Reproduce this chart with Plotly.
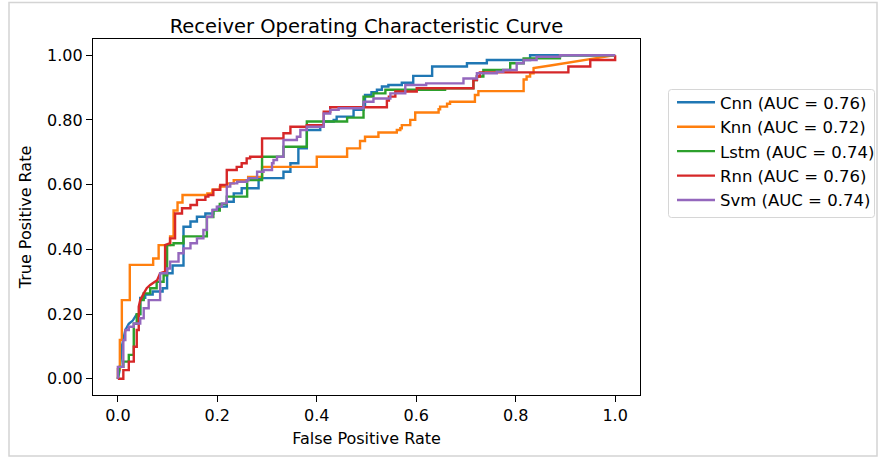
import plotly.graph_objects as go

# ROC curve vertices (false positive rate, true positive rate) for each model
cnn_fpr = [0, 0.004, 0.008, 0.011, 0.015, 0.022, 0.030, 0.038, 0.045, 0.045, 0.055, 0.055, 0.070, 0.070, 0.090, 0.090,
           0.099, 0.099, 0.110, 0.110, 0.132, 0.132, 0.146, 0.146, 0.159, 0.159, 0.176, 0.176, 0.192, 0.192, 0.203, 0.203,
           0.219, 0.219, 0.233, 0.233, 0.249, 0.249, 0.283, 0.283, 0.333, 0.333, 0.347, 0.347, 0.363, 0.363, 0.380, 0.380,
           0.407, 0.407, 0.414, 0.414, 0.434, 0.434, 0.440, 0.440, 0.474, 0.474, 0.494, 0.494, 0.497, 0.497, 0.510, 0.510,
           0.521, 0.521, 0.531, 0.531, 0.544, 0.544, 0.571, 0.571, 0.594, 0.594, 0.632, 0.632, 0.702, 0.702, 0.742, 0.742,
           0.829, 0.829, 1.0]
cnn_tpr = [0, 0.03, 0.10, 0.12, 0.15, 0.17, 0.18, 0.20, 0.20, 0.25, 0.25, 0.26, 0.26, 0.27, 0.27, 0.28,
           0.28, 0.326, 0.326, 0.35, 0.35, 0.47, 0.47, 0.486, 0.486, 0.501, 0.501, 0.511, 0.511, 0.522, 0.522, 0.532,
           0.532, 0.547, 0.547, 0.573, 0.573, 0.589, 0.589, 0.620, 0.620, 0.640, 0.640, 0.666, 0.666, 0.712, 0.712, 0.769,
           0.769, 0.784, 0.784, 0.795, 0.795, 0.800, 0.800, 0.810, 0.810, 0.831, 0.831, 0.847, 0.847, 0.877, 0.877, 0.886,
           0.886, 0.893, 0.893, 0.903, 0.903, 0.908, 0.908, 0.915, 0.915, 0.936, 0.936, 0.965, 0.965, 0.975, 0.975, 0.985,
           0.985, 1.0, 1.0]

knn_fpr = [0, 0, 0.004, 0.004, 0.008, 0.008, 0.024, 0.024, 0.071, 0.071, 0.082, 0.082, 0.105, 0.105, 0.112, 0.112,
           0.120, 0.120, 0.130, 0.130, 0.180, 0.180, 0.190, 0.190, 0.205, 0.205, 0.220, 0.220, 0.233, 0.233, 0.262, 0.262,
           0.290, 0.290, 0.400, 0.400, 0.461, 0.461, 0.487, 0.487, 0.497, 0.497, 0.524, 0.524, 0.561, 0.561, 0.568, 0.568,
           0.571, 0.571, 0.588, 0.588, 0.598, 0.598, 0.645, 0.645, 0.648, 0.648, 0.662, 0.662, 0.668, 0.668, 0.718, 0.718,
           0.725, 0.725, 0.816, 0.816, 0.822, 0.822, 0.829, 0.829, 0.836, 0.836, 0.870, 0.910, 0.950, 1.0]
knn_tpr = [0, 0.03, 0.03, 0.12, 0.12, 0.243, 0.243, 0.352, 0.352, 0.372, 0.372, 0.413, 0.413, 0.44, 0.44, 0.52,
           0.52, 0.545, 0.545, 0.568, 0.568, 0.573, 0.573, 0.584, 0.584, 0.594, 0.594, 0.604, 0.604, 0.614, 0.614, 0.624,
           0.624, 0.655, 0.655, 0.686, 0.686, 0.712, 0.712, 0.735, 0.735, 0.748, 0.748, 0.761, 0.761, 0.769, 0.769, 0.774,
           0.774, 0.784, 0.784, 0.800, 0.800, 0.823, 0.823, 0.833, 0.833, 0.841, 0.841, 0.850, 0.850, 0.856, 0.856, 0.877,
           0.877, 0.889, 0.889, 0.925, 0.925, 0.934, 0.934, 0.944, 0.944, 0.960, 0.968, 0.978, 0.987, 1.0]

lstm_fpr = [0, 0.003, 0.011, 0.011, 0.022, 0.022, 0.032, 0.032, 0.038, 0.038, 0.045, 0.045, 0.052, 0.052, 0.065, 0.065,
            0.078, 0.078, 0.092, 0.092, 0.099, 0.099, 0.112, 0.112, 0.132, 0.132, 0.179, 0.179, 0.192, 0.192, 0.205, 0.205,
            0.219, 0.219, 0.260, 0.260, 0.290, 0.290, 0.333, 0.333, 0.380, 0.380, 0.461, 0.461, 0.494, 0.494, 0.514, 0.514,
            0.538, 0.538, 0.658, 0.658, 0.715, 0.715, 0.722, 0.722, 0.735, 0.735, 0.789, 0.789, 0.816, 0.816, 0.889, 0.889,
            1.0]
lstm_tpr = [0, 0.037, 0.037, 0.053, 0.053, 0.074, 0.074, 0.17, 0.17, 0.20, 0.20, 0.243, 0.243, 0.264, 0.264, 0.28,
            0.28, 0.30, 0.30, 0.32, 0.32, 0.413, 0.413, 0.419, 0.419, 0.44, 0.44, 0.50, 0.50, 0.52, 0.52, 0.54,
            0.54, 0.563, 0.563, 0.614, 0.614, 0.686, 0.686, 0.717, 0.717, 0.795, 0.795, 0.807, 0.807, 0.872, 0.872, 0.882,
            0.882, 0.893, 0.893, 0.898, 0.898, 0.923, 0.923, 0.934, 0.934, 0.954, 0.954, 0.975, 0.975, 0.990, 0.990, 1.0,
            1.0]

rnn_fpr = [0, 0.011, 0.011, 0.022, 0.022, 0.032, 0.032, 0.038, 0.038, 0.042, 0.042, 0.045, 0.052, 0.058, 0.065, 0.079,
           0.085, 0.095, 0.095, 0.105, 0.105, 0.115, 0.115, 0.129, 0.129, 0.146, 0.146, 0.159, 0.159, 0.176, 0.176, 0.182,
           0.182, 0.192, 0.192, 0.206, 0.206, 0.219, 0.219, 0.239, 0.239, 0.249, 0.249, 0.259, 0.259, 0.266, 0.266, 0.290,
           0.290, 0.333, 0.333, 0.347, 0.347, 0.380, 0.380, 0.414, 0.414, 0.427, 0.427, 0.541, 0.541, 0.545, 0.545, 0.558,
           0.558, 0.601, 0.601, 0.715, 0.715, 0.722, 0.722, 0.728, 0.728, 0.906, 0.906, 0.950, 0.950, 1.0, 1.0]
rnn_tpr = [0, 0, 0.027, 0.027, 0.053, 0.053, 0.099, 0.099, 0.151, 0.151, 0.223, 0.243, 0.264, 0.280, 0.290, 0.305,
           0.326, 0.331, 0.413, 0.419, 0.434, 0.434, 0.511, 0.511, 0.527, 0.527, 0.537, 0.537, 0.553, 0.553, 0.563, 0.563,
           0.568, 0.568, 0.584, 0.584, 0.599, 0.599, 0.645, 0.645, 0.655, 0.655, 0.666, 0.666, 0.681, 0.681, 0.686, 0.686,
           0.743, 0.743, 0.759, 0.759, 0.779, 0.779, 0.784, 0.784, 0.825, 0.825, 0.839, 0.839, 0.860, 0.860, 0.872, 0.872,
           0.888, 0.888, 0.898, 0.898, 0.923, 0.923, 0.934, 0.934, 0.947, 0.947, 0.965, 0.965, 0.985, 0.985, 1.0]

svm_fpr = [0, 0, 0.011, 0.011, 0.015, 0.015, 0.022, 0.022, 0.032, 0.032, 0.045, 0.045, 0.052, 0.052, 0.062, 0.062,
           0.085, 0.085, 0.099, 0.099, 0.105, 0.105, 0.122, 0.122, 0.132, 0.132, 0.146, 0.146, 0.159, 0.159, 0.172, 0.172,
           0.179, 0.179, 0.190, 0.190, 0.199, 0.199, 0.209, 0.209, 0.219, 0.219, 0.226, 0.226, 0.240, 0.240, 0.259, 0.259,
           0.263, 0.263, 0.280, 0.280, 0.293, 0.293, 0.310, 0.310, 0.313, 0.313, 0.320, 0.320, 0.333, 0.333, 0.360, 0.360,
           0.367, 0.367, 0.380, 0.380, 0.414, 0.414, 0.427, 0.427, 0.444, 0.444, 0.494, 0.494, 0.514, 0.514, 0.548, 0.548,
           0.578, 0.578, 0.620, 0.620, 0.695, 0.695, 0.722, 0.722, 0.762, 0.762, 0.775, 0.775, 0.802, 0.802, 0.816, 0.816,
           0.842, 0.842, 0.889, 0.889, 1.0]
svm_tpr = [0, 0.037, 0.037, 0.120, 0.120, 0.151, 0.151, 0.161, 0.161, 0.171, 0.171, 0.187, 0.187, 0.218, 0.218, 0.243,
           0.243, 0.326, 0.326, 0.341, 0.341, 0.362, 0.362, 0.388, 0.388, 0.403, 0.403, 0.419, 0.419, 0.434, 0.434, 0.460,
           0.460, 0.501, 0.501, 0.522, 0.522, 0.532, 0.532, 0.542, 0.542, 0.594, 0.594, 0.604, 0.604, 0.609, 0.609, 0.614,
           0.614, 0.620, 0.620, 0.640, 0.640, 0.645, 0.645, 0.666, 0.666, 0.676, 0.676, 0.686, 0.686, 0.738, 0.738, 0.748,
           0.748, 0.769, 0.769, 0.779, 0.779, 0.820, 0.820, 0.831, 0.831, 0.836, 0.836, 0.856, 0.856, 0.866, 0.866, 0.882,
           0.882, 0.908, 0.908, 0.913, 0.913, 0.928, 0.928, 0.944, 0.944, 0.949, 0.949, 0.954, 0.954, 0.975, 0.975, 0.985,
           0.985, 0.995, 0.995, 1.0, 1.0]

model_names = ["Cnn", "Knn", "Lstm", "Rnn", "Svm"]
auc_values = [0.76, 0.72, 0.74, 0.76, 0.74]
fpr_series = [cnn_fpr, knn_fpr, lstm_fpr, rnn_fpr, svm_fpr]
tpr_series = [cnn_tpr, knn_tpr, lstm_tpr, rnn_tpr, svm_tpr]
line_colors = ["#1f77b4", "#ff7f0e", "#2ca02c", "#d62728", "#9467bd"]

x_ticks = [0.0, 0.2, 0.4, 0.6, 0.8, 1.0]
y_ticks = [0.0, 0.2, 0.4, 0.6, 0.8, 1.0]

# page geometry (pixels)
W, H = 881, 459
L, R, T, B = 93, 241, 39, 64
PW, PH = W - L - R, H - T - B


def paper_x(px):
    return (px - L) / PW


def paper_y(py):
    return (H - B - py) / PH


def rounded_box(x0, y0, x1, y1, r):
    """SVG path (paper coordinates) of a rectangle with rounded corners, given in pixels."""
    X = paper_x
    Y = paper_y
    return (
        f"M{X(x0 + r)},{Y(y0)} L{X(x1 - r)},{Y(y0)} Q{X(x1)},{Y(y0)} {X(x1)},{Y(y0 + r)} "
        f"L{X(x1)},{Y(y1 - r)} Q{X(x1)},{Y(y1)} {X(x1 - r)},{Y(y1)} "
        f"L{X(x0 + r)},{Y(y1)} Q{X(x0)},{Y(y1)} {X(x0)},{Y(y1 - r)} "
        f"L{X(x0)},{Y(y0 + r)} Q{X(x0)},{Y(y0)} {X(x0 + r)},{Y(y0)} Z"
    )


FONT = "DejaVu Sans"

fig = go.Figure()
for name, auc, fpr, tpr, color in zip(model_names, auc_values, fpr_series, tpr_series, line_colors):
    fig.add_trace(go.Scatter(
        x=fpr, y=tpr, mode="lines",
        name=f"{name} (AUC = {auc:.2f})",
        line=dict(color=color, width=2.4),
    ))

axis_common = dict(
    showgrid=False, zeroline=False,
    showline=True, mirror=True, linecolor="#000000", linewidth=1.2,
    ticks="outside", ticklen=6, tickwidth=1.2, tickcolor="#000000",
    tickfont=dict(family=FONT, size=16, color="#000000"),
    range=[-0.05, 1.05],
)

fig.update_layout(
    width=W, height=H,
    margin=dict(l=L, r=R, t=T, b=B, autoexpand=False),
    paper_bgcolor="white", plot_bgcolor="white",
    font=dict(family=FONT, color="#000000"),
    title=dict(
        text="Receiver Operating Characteristic Curve",
        font=dict(family=FONT, size=19.5, color="#000000"),
        x=(L + PW / 2) / W, xref="container", xanchor="center",
        y=(H - 33) / H, yref="container", yanchor="bottom",
    ),
    xaxis=dict(
        axis_common,
        tickvals=x_ticks, tickformat=".1f",
        title=dict(text="False Positive Rate", font=dict(family=FONT, size=16), standoff=8),
    ),
    yaxis=dict(
        axis_common,
        tickvals=y_ticks, tickformat=".2f",
        title=dict(text="True Positive Rate", font=dict(family=FONT, size=16), standoff=11),
    ),
    legend=dict(
        x=paper_x(672), y=paper_y(85), xanchor="left", yanchor="top",
        xref="paper", yref="paper",
        bgcolor="rgba(0,0,0,0)", borderwidth=0,
        font=dict(family=FONT, size=16.5, color="#000000"),
        itemwidth=38,
    ),
    showlegend=True,
    shapes=[
        # light frame around the whole figure
        dict(
            type="rect", xref="paper", yref="paper",
            x0=paper_x(9), x1=paper_x(877), y0=paper_y(456), y1=paper_y(2.5),
            line=dict(color="#d4d4d4", width=1.5), fillcolor="rgba(0,0,0,0)", layer="below",
        ),
        # legend box with rounded corners
        dict(
            type="path", xref="paper", yref="paper",
            path=rounded_box(668.5, 89.5, 874.5, 217.5, 3),
            line=dict(color="#d6d6d6", width=1), fillcolor="white", layer="below",
        ),
    ],
)

fig.write_html("out.html")
